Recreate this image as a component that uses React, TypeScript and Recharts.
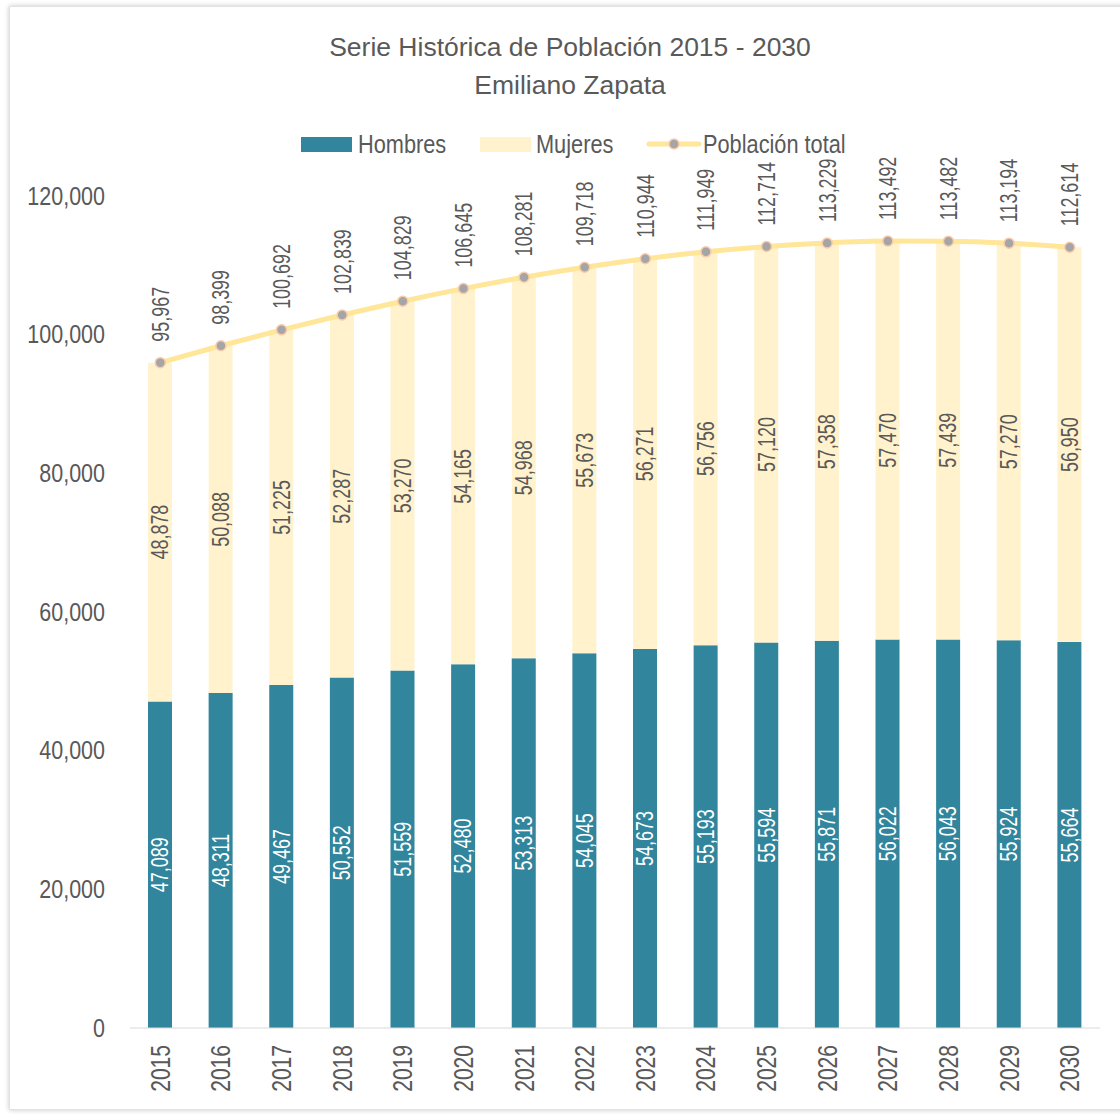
import { ComposedChart, Bar, Line, XAxis, YAxis, LabelList } from 'recharts';

const years = ['2015', '2016', '2017', '2018', '2019', '2020', '2021', '2022', '2023', '2024', '2025', '2026', '2027', '2028', '2029', '2030'];
const hombres = [47089, 48311, 49467, 50552, 51559, 52480, 53313, 54045, 54673, 55193, 55594, 55871, 56022, 56043, 55924, 55664];
const mujeres = [48878, 50088, 51225, 52287, 53270, 54165, 54968, 55673, 56271, 56756, 57120, 57358, 57470, 57439, 57270, 56950];
const total = [95967, 98399, 100692, 102839, 104829, 106645, 108281, 109718, 110944, 111949, 112714, 113229, 113492, 113482, 113194, 112614];
const yTicks = [0, 20000, 40000, 60000, 80000, 100000, 120000];

const FONT = "'Liberation Sans', Arial, sans-serif";
const TEXT = '#595959';
const TEAL = '#31859C';
const CREAM = '#FFF2CC';
const GOLD = '#FFE699';

const fmt = (v: number) => v.toLocaleString('en-US');

const chartData = years.map((y, i) => ({
  year: y,
  hombres: hombres[i],
  mujeres: mujeres[i],
  total: total[i],
}));

// no narrow font installed, so squeeze along the text direction
const VText = ({ x, y, anchor, size, scale, color, children }: any) => (
  <text transform={`translate(${x},${y}) rotate(-90) scale(${scale},1)`} textAnchor={anchor}
    dominantBaseline="central" fill={color} fontSize={size} fontFamily={FONT}>
    {children}
  </text>
);

const barLabel = (color: string) => (props: any) => {
  const { x, y, width, height, value } = props;
  return (
    <VText x={x + width / 2} y={y + height / 2} anchor="middle" size={23} scale={0.78} color={color}>
      {fmt(value)}
    </VText>
  );
};

const totalLabel = (props: any) => {
  const { x, y, value } = props;
  return (
    <VText x={x} y={y - 21} anchor="start" size={23} scale={0.78} color={TEXT}>
      {fmt(value)}
    </VText>
  );
};

const YearTick = (props: any) => {
  const { x, payload } = props;
  return (
    <VText x={x} y={1045} anchor="end" size={27} scale={0.78} color={TEXT}>
      {payload.value}
    </VText>
  );
};

const ValueTick = (props: any) => {
  const { y, payload } = props;
  return (
    <text transform={`translate(105,${y}) scale(0.86,1)`} textAnchor="end" dominantBaseline="central"
      fill={TEXT} fontSize={25} fontFamily={FONT}>
      {fmt(payload.value)}
    </text>
  );
};

function LegendText({ left, children }: any) {
  return (
    <span style={{ position: 'absolute', left, top: 144, transform: 'translateY(-50%) scaleX(0.87)',
      transformOrigin: 'left center', whiteSpace: 'nowrap', fontFamily: FONT, fontSize: 25, color: TEXT }}>
      {children}
    </span>
  );
}

function LegendRow() {
  return (
    <>
      <span style={{ position: 'absolute', left: 301, top: 137, width: 51, height: 15, background: TEAL }} />
      <LegendText left={358}>Hombres</LegendText>
      <span style={{ position: 'absolute', left: 480, top: 137, width: 51, height: 15, background: CREAM }} />
      <LegendText left={536}>Mujeres</LegendText>
      <svg width={56} height={20} style={{ position: 'absolute', left: 646, top: 134 }}>
        <line x1={3} y1={10} x2={53} y2={10} stroke={GOLD} strokeWidth={5} strokeLinecap="round" />
        <circle cx={28} cy={10} r={5} fill="#A5A5A5" stroke="#F8CBAD" strokeWidth={1.5} />
      </svg>
      <LegendText left={703}>Población total</LegendText>
    </>
  );
}

export default function App() {
  return (
    <div style={{ position: 'absolute', left: 0, top: 0, width: 1120, height: 1114, overflow: 'hidden', background: '#fff' }}>
      <div style={{ position: 'absolute', left: 9, top: 6, width: 1130, height: 1102, border: '1px solid #e3e3e3',
        boxShadow: '0 0 5px rgba(0,0,0,0.22)', background: '#fff' }} />
      <div style={{ position: 'absolute', top: 28, left: 0, width: 1140, textAlign: 'center', fontFamily: FONT,
        fontSize: 26.5, lineHeight: '38px', color: TEXT }}>
        Serie Histórica de Población 2015 - 2030
        <br />
        Emiliano Zapata
      </div>
      <LegendRow />
      <div style={{ position: 'absolute', left: 0, top: 0 }}>
        <ComposedChart width={1120} height={1114} data={chartData} margin={{ top: 196, right: 20, bottom: 0, left: 0 }}>
          <XAxis dataKey="year" height={86} tick={<YearTick />} tickLine={false} axisLine={{ stroke: '#D9D9D9' }} interval={0} />
          <YAxis width={130} domain={[0, 120000]} ticks={yTicks} tick={<ValueTick />} tickLine={false} axisLine={false} />
          <Bar dataKey="hombres" stackId="a" fill={TEAL} barSize={24} isAnimationActive={false}>
            <LabelList dataKey="hombres" content={barLabel('#FFFFFF')} />
          </Bar>
          <Bar dataKey="mujeres" stackId="a" fill={CREAM} barSize={24} isAnimationActive={false}>
            <LabelList dataKey="mujeres" content={barLabel(TEXT)} />
          </Bar>
          <Line type="monotone" dataKey="total" stroke={GOLD} strokeWidth={5}
            dot={{ r: 5, fill: '#A5A5A5', stroke: '#F8CBAD', strokeWidth: 1.5 }} isAnimationActive={false}>
            <LabelList dataKey="total" content={totalLabel} />
          </Line>
        </ComposedChart>
      </div>
    </div>
  );
}
